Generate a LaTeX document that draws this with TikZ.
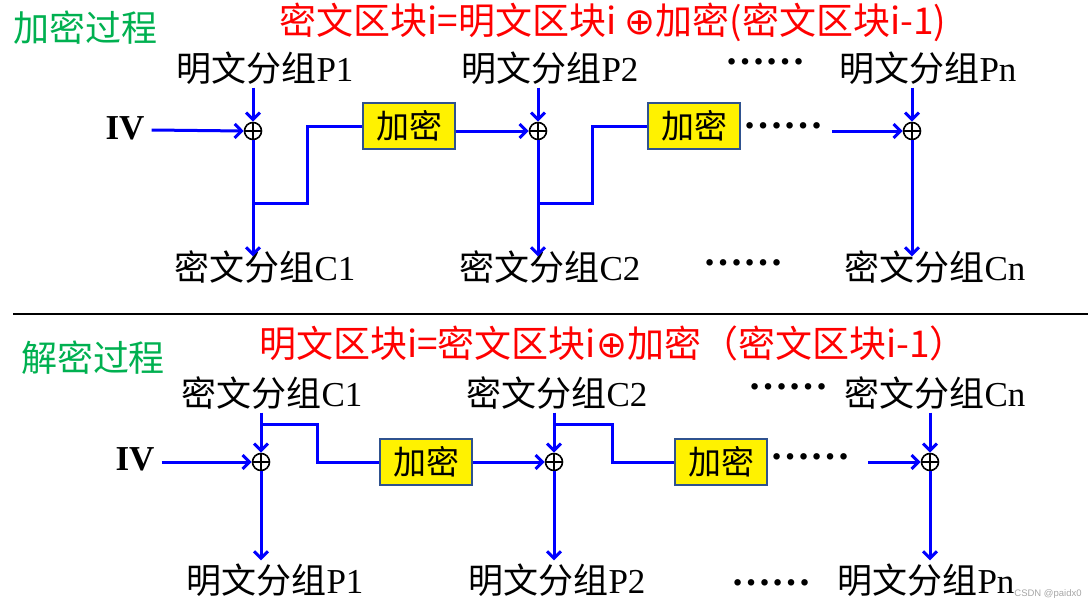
\documentclass[tikz,border=0pt]{standalone}
\usepackage{fontspec}
\setmainfont{Liberation Serif}
\newfontfamily\cjk{Noto Sans CJK SC}
\newfontfamily\symf{DejaVu Sans}
\usetikzlibrary{arrows.meta,calc}
\definecolor{pgreen}{RGB}{0,176,80}
\definecolor{boxblue}{RGB}{47,82,143}
\tikzset{
  lbl/.style={font=\fontsize{35}{38}\selectfont, inner sep=0pt},
  ttl/.style={font=\cjk\fontsize{37}{40}\selectfont, text=red, inner sep=0pt},
  hdr/.style={font=\cjk\fontsize{36}{38}\selectfont, text=pgreen, inner sep=0pt},
  ivlbl/.style={font=\bfseries\fontsize{35}{36}\selectfont, inner sep=0pt},
  encbox/.style={draw=boxblue, line width=2pt, fill=yellow, minimum width=92pt, minimum height=46pt, inner sep=0pt, font=\cjk\fontsize{33}{36}\selectfont},
  xorn/.style={circle, draw=black, line width=1.6pt, minimum size=17pt, inner sep=0pt,
    path picture={\draw[black, line width=1.4pt] (path picture bounding box.north) -- (path picture bounding box.south) (path picture bounding box.west) -- (path picture bounding box.east);}},
  wire/.style={blue, line width=3pt},
  arr/.style={blue, line width=3pt, -{Straight Barb[length=7pt, width=14pt]}},
  dotsn/.style={font=\rmfamily\bfseries\fontsize{40}{40}\selectfont, inner sep=0pt, text height=5pt, text depth=0pt},
}
\begin{document}
\begin{tikzpicture}[x=1pt, y=-1pt]
\useasboundingbox (0,0) rectangle (1088,608);
% ---------------- top: encryption ----------------
\node[hdr] (h1) at (85,28) {加密过程};
\node[ttl] (t1) at (613,22) {密文区块i=明文区块i {\symf ⊕}加密(密文区块i-1)};
\node[lbl] (p1) at (265,68) {{\cjk 明文分组}P1};
\node[lbl] (p2) at (550,68) {{\cjk 明文分组}P2};
\node[dotsn] (dt1) at (765,62) {……};
\node[lbl] (pn) at (928,68) {{\cjk 明文分组}Pn};
\node[ivlbl] (iv1) at (125,128) {IV};
\node[xorn] (x1) at (253,131) {};
\node[xorn] (x2) at (538,131) {};
\node[xorn] (x3) at (912,131) {};
\node[encbox] (e1) at (409,126) {加密};
\node[encbox] (e2) at (694,126) {加密};
\node[dotsn] (dt2) at (783,126) {……};
\node[lbl] (c1) at (265,267) {{\cjk 密文分组}C1};
\node[lbl] (c2) at (550,267) {{\cjk 密文分组}C2};
\node[dotsn] (dt3) at (743,263) {……};
\node[lbl] (cn) at (935,267) {{\cjk 密文分组}Cn};
\coordinate (s3) at (832,131);
\coordinate (b1) at (253,203);
\coordinate (b2) at (538,203);

\draw[arr] ($(iv1.east)+(7,2)$) -- (x1.west);
\draw[arr] ($(p1.south -| x1)+(0,3)$) -- (x1.north);
\draw[arr] ($(p2.south -| x2)+(0,3)$) -- (x2.north);
\draw[arr] ($(pn.south -| x3)+(0,3)$) -- (x3.north);
\draw[arr] (x1.south) -- ($(c1.north -| x1)+(0,6)$);
\draw[arr] (x2.south) -- ($(c2.north -| x2)+(0,6)$);
\draw[arr] (x3.south) -- ($(cn.north -| x3)+(0,6)$);
\draw[wire] (b1) -- ++(54,0) |- (e1.west);
\draw[wire] (b2) -- ++(54,0) |- (e2.west);
\draw[arr] (e1.east |- x2) -- (x2.west);
\draw[arr] (s3) -- (x3.west);

% separator
\coordinate (sepl) at (13,314);
\coordinate (sepr) at (1088,314);
\draw[black, line width=2pt] (sepl) -- (sepr);

% ---------------- bottom: decryption ----------------
\node[hdr] (h2) at (93,358) {解密过程};
\node[ttl] (t2) at (613,343) {明文区块i=密文区块i{\symf ⊕}加密（密文区块i-1）};
\node[lbl] (cc1) at (272,393) {{\cjk 密文分组}C1};
\node[lbl] (cc2) at (557,393) {{\cjk 密文分组}C2};
\node[dotsn] (dt4) at (788,387) {……};
\node[lbl] (ccn) at (935,393) {{\cjk 密文分组}Cn};
\node[ivlbl] (iv2) at (135,459) {IV};
\node[xorn] (y1) at (261,462) {};
\node[xorn] (y2) at (554,462) {};
\node[xorn] (y3) at (930,462) {};
\node[encbox] (f1) at (426,462) {加密};
\node[encbox] (f2) at (721,462) {加密};
\node[dotsn] (dt5) at (810,457) {……};
\node[lbl] (pp1) at (275,580) {{\cjk 明文分组}P1};
\node[lbl] (pp2) at (557,580) {{\cjk 明文分组}P2};
\node[dotsn] (dt6) at (771,583) {……};
\node[lbl] (ppn) at (926,580) {{\cjk 明文分组}Pn};
\coordinate (s6) at (868,462);
\coordinate (g1) at (261,424);
\coordinate (g2) at (554,424);

\draw[arr] ($(iv2.east)+(7,3)$) -- (y1.west);
\draw[arr] ($(cc1.south -| y1)+(0,3)$) -- (y1.north);
\draw[arr] ($(cc2.south -| y2)+(0,3)$) -- (y2.north);
\draw[arr] ($(ccn.south -| y3)+(0,3)$) -- (y3.north);
\draw[arr] (y1.south) -- ($(pp1.north -| y1)+(0,-3)$);
\draw[arr] (y2.south) -- ($(pp2.north -| y2)+(0,-3)$);
\draw[arr] (y3.south) -- ($(ppn.north -| y3)+(0,-3)$);
\draw[wire] (g1) -- ++(56,0) |- (f1.west);
\draw[wire] (g2) -- ++(58,0) |- (f2.west);
\draw[arr] (f1.east) -- (y2.west);
\draw[arr] (s6) -- (y3.west);

\node[font=\fontspec{Liberation Sans}\fontsize{9.5}{10}\selectfont, text=gray!70, inner sep=0pt] (wm) at (1048,594) {CSDN @paidx0};
\end{tikzpicture}
\end{document}
